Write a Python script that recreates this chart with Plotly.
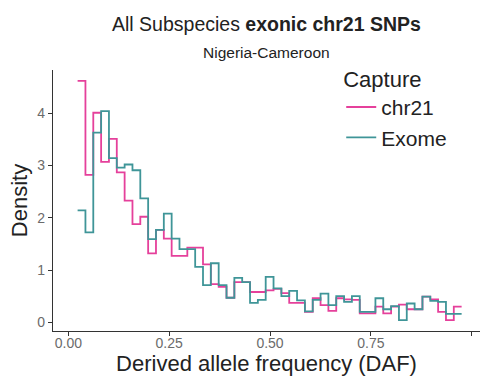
import plotly.graph_objects as go

# ---- data ----
series_names = ["chr21", "Exome"]
bin_start = 0.023          # left edge of first bin (DAF)
bin_width = 0.01943        # DAF bin width
chr21_density = [4.62, 2.82, 4.01, 3.07, 3.51, 2.87, 2.33, 1.88, 2.02, 1.32,
                 1.77, 1.60, 1.27, 1.27, 1.43, 1.43, 1.11, 0.73, 0.68, 0.47,
                 0.77, 0.77, 0.58, 0.58, 0.61, 0.64, 0.56, 0.37, 0.37, 0.20,
                 0.46, 0.33, 0.22, 0.46, 0.44, 0.43, 0.17, 0.17, 0.30, 0.17,
                 0.30, 0.34, 0.25, 0.25, 0.49, 0.44, 0.20, 0.04, 0.30]
exome_density = [2.14, 1.72, 3.63, 4.04, 3.14, 2.96, 3.02, 2.91, 2.37, 1.59,
                 1.77, 2.08, 1.60, 1.40, 1.40, 1.06, 0.71, 1.13, 0.71, 0.47,
                 0.85, 0.77, 0.37, 0.43, 0.87, 0.65, 0.50, 0.60, 0.42, 0.21,
                 0.43, 0.55, 0.33, 0.50, 0.39, 0.50, 0.20, 0.20, 0.46, 0.25,
                 0.31, 0.04, 0.36, 0.25, 0.49, 0.41, 0.39, 0.16, 0.16]
x_ticks = [0.0, 0.25, 0.5, 0.75, 1.0]
x_tick_labels = ["0.00", "0.25", "0.50", "0.75", "1.00"]
y_ticks = [0, 1, 2, 3, 4]

colors = {"chr21": "#e5409b", "Exome": "#3f9598"}
FONT = "Liberation Sans, Arial, Helvetica, sans-serif"


def step_xy(vals):
    n = len(vals)
    xs = [bin_start + i * bin_width for i in range(n + 1)]
    ys = list(vals) + [vals[-1]]
    return xs, ys


fig = go.Figure()
for name, vals in zip(series_names, [chr21_density, exome_density]):
    xs, ys = step_xy(vals)
    fig.add_trace(go.Scatter(x=xs, y=ys, mode="lines", name=name,
                             line=dict(color=colors[name], width=1.8, shape="hv")))

fig.update_layout(
    width=482, height=377,
    margin=dict(l=53, r=2, t=70, b=46),
    paper_bgcolor="white", plot_bgcolor="white",
    font=dict(family=FONT, color="#222"),
    showlegend=True,
    legend=dict(
        title=dict(text="Capture", font=dict(size=22, color="#222")),
        font=dict(size=21, color="#222"),
        x=0.675, xanchor="left", y=1.045, yanchor="top",
        bgcolor="rgba(0,0,0,0)", tracegroupgap=0,
    ),
    xaxis=dict(
        range=[-0.038, 1.0206], tickmode="array", tickvals=x_ticks,
        ticktext=x_tick_labels, showgrid=False, zeroline=False,
        showline=True, linecolor="#333", linewidth=1.3,
        ticks="outside", ticklen=4, tickcolor="#333", tickwidth=1,
        tickfont=dict(size=14, color="#6b6b6b"), ticklabelstandoff=-5,
        title=dict(text="Derived allele frequency (DAF)",
                   font=dict(size=22, color="#222"), standoff=2),
    ),
    yaxis=dict(
        range=[-0.1665, 4.828], tickmode="array", tickvals=y_ticks,
        showgrid=False, zeroline=False,
        showline=True, linecolor="#333", linewidth=1.3,
        ticks="outside", ticklen=4, tickcolor="#333", tickwidth=1,
        tickfont=dict(size=14, color="#6b6b6b"),
        title=dict(text="Density", font=dict(size=22, color="#222"), standoff=3),
    ),
    annotations=[
        dict(text="All Subspecies <b>exonic chr21 SNPs</b>", x=0.5, y=24,
             xref="paper", yref="paper", showarrow=False,
             font=dict(size=19.5, color="#222")),
        dict(text="Nigeria-Cameroon", x=0.5, y=53,
             xref="paper", yref="paper", showarrow=False,
             font=dict(size=15.5, color="#222")),
    ],
)

# convert title/subtitle pixel y positions into paper coordinates
plot_top, plot_h = 70, 377 - 70 - 46
for ann in fig.layout.annotations:
    ann.y = 1 + (plot_top - ann.y) / plot_h
    ann.yanchor = "middle"

fig.write_html("out.html")
